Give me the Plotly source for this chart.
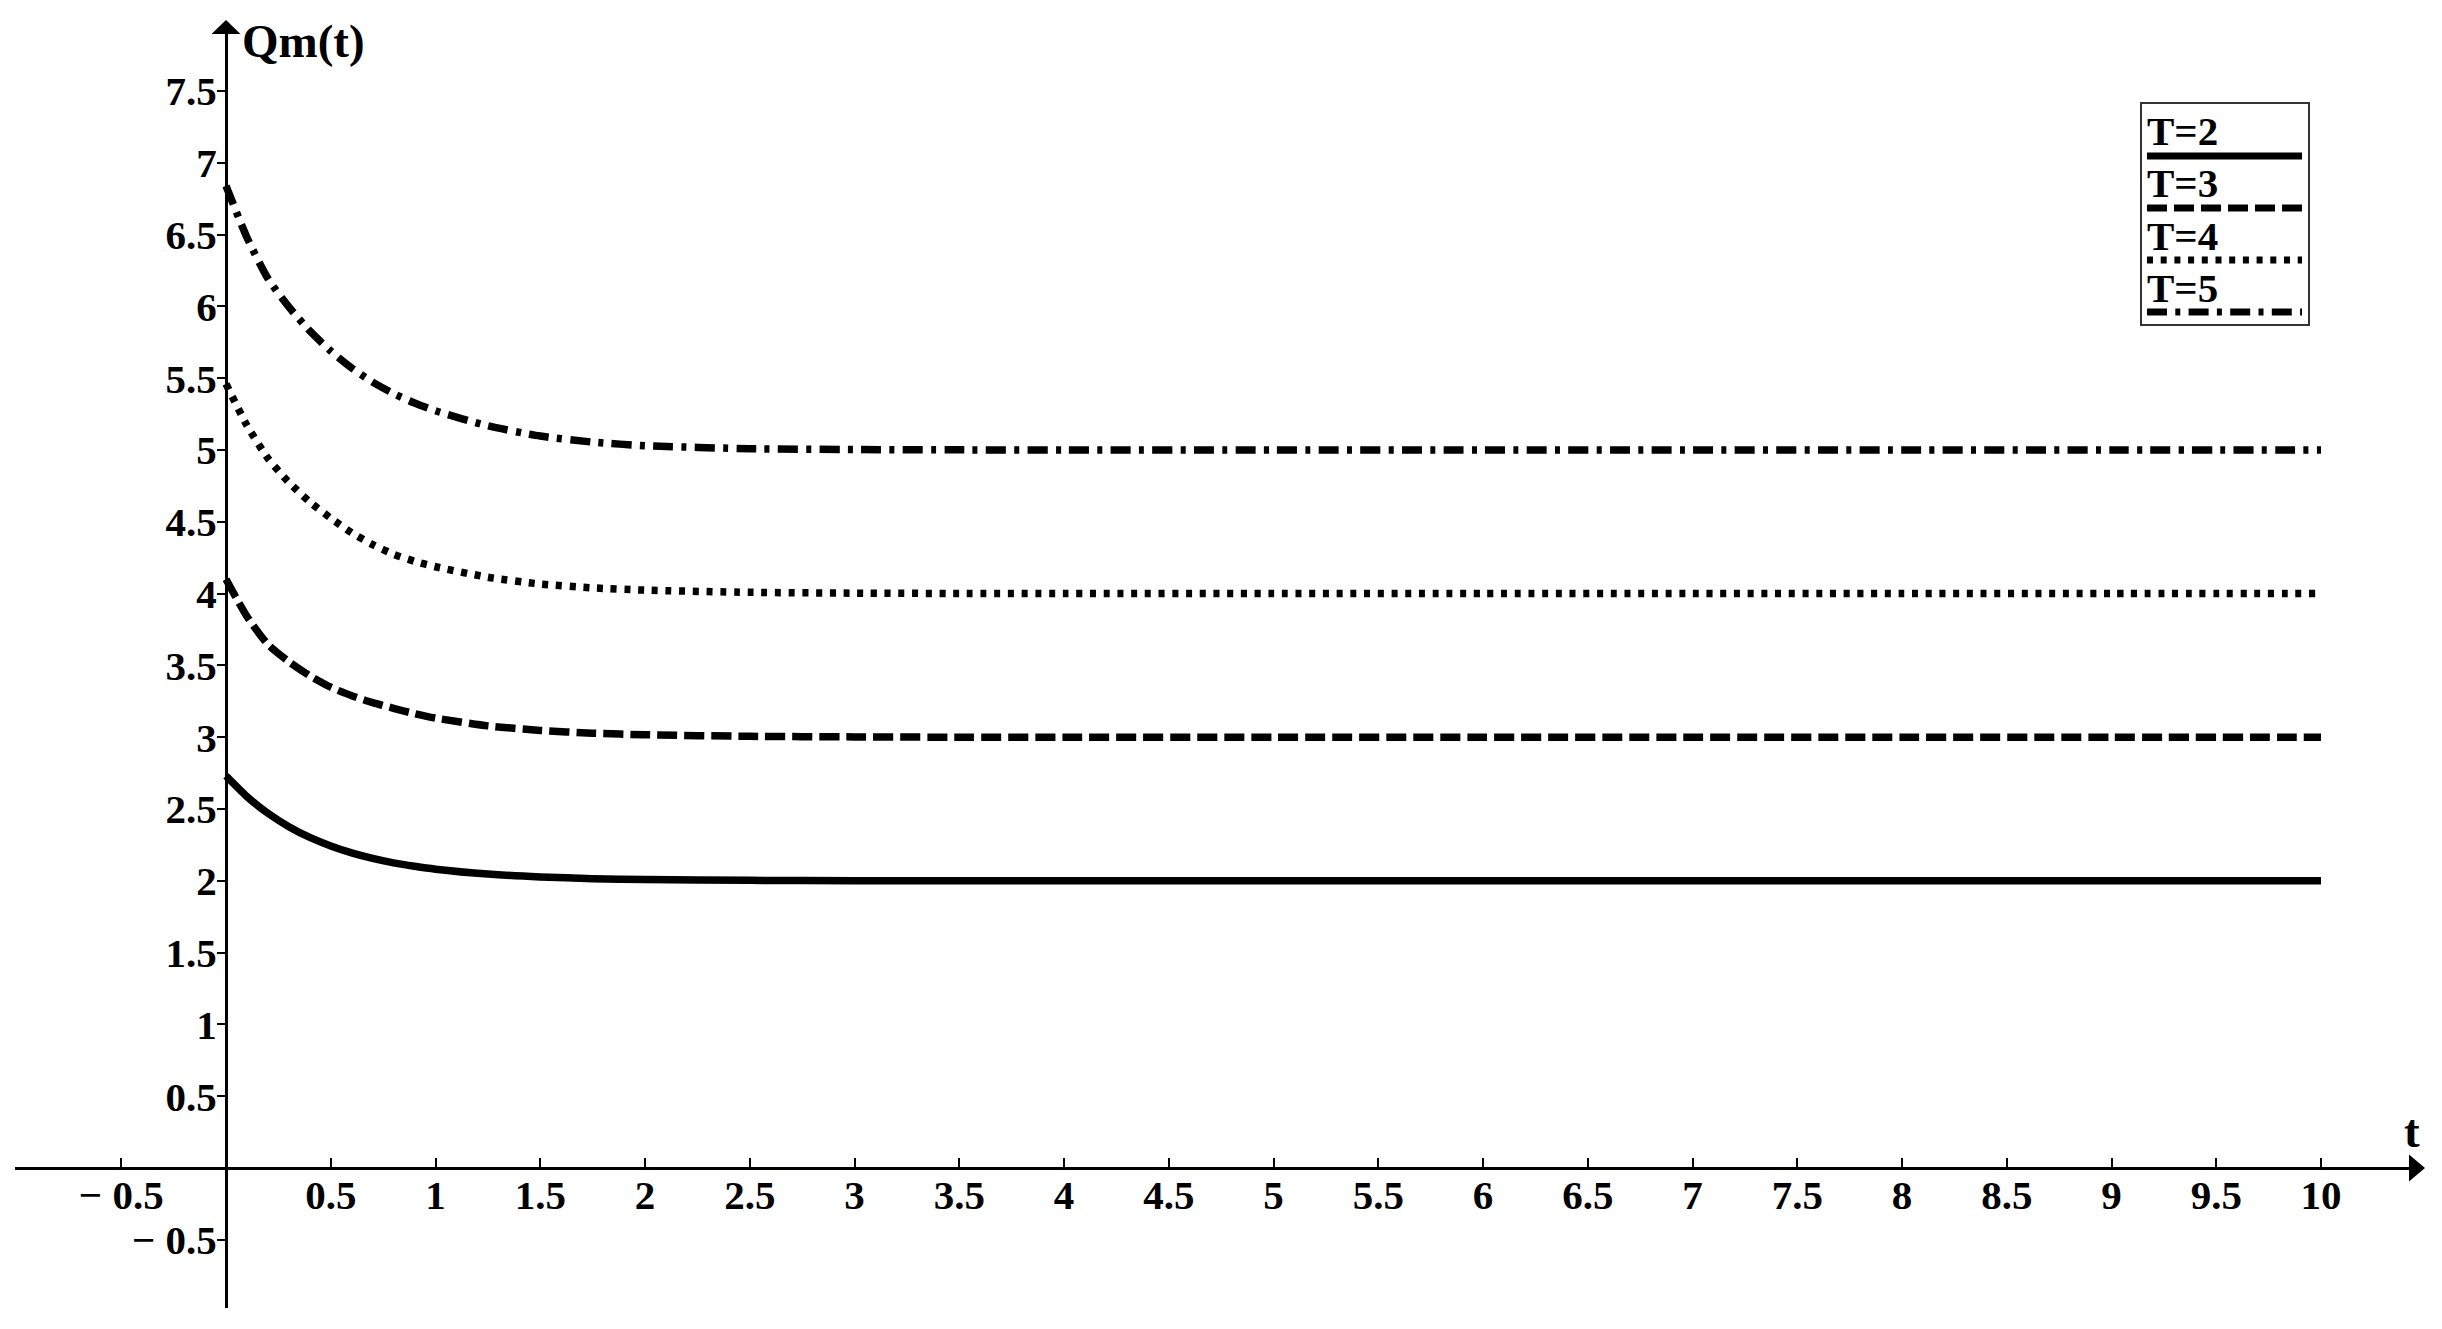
import plotly.graph_objects as go

# ---------------- data ----------------
t = [0, 0.1, 0.2, 0.3, 0.4, 0.5, 0.6, 0.7, 0.8, 0.9, 1.0,
     1.25, 1.5, 1.75, 2, 2.5, 3, 3.5, 4, 5, 6, 7, 8, 9, 10]
Q_T2 = [2.73, 2.586, 2.47, 2.377, 2.302, 2.243, 2.195, 2.156, 2.125, 2.101, 2.081,
        2.047, 2.027, 2.015, 2.009, 2.003, 2.001, 2.0, 2.0, 2.0, 2.0, 2.0, 2.0, 2.0, 2.0]
Q_T3 = [4.10, 3.841, 3.646, 3.526, 3.428, 3.348, 3.289, 3.241, 3.201, 3.164, 3.133,
        3.079, 3.047, 3.028, 3.017, 3.006, 3.002, 3.0, 3.0, 3.0, 3.0, 3.0, 3.0, 3.0, 3.0]
Q_T4 = [5.46, 5.171, 4.942, 4.775, 4.638, 4.525, 4.424, 4.341, 4.274, 4.225, 4.187,
        4.114, 4.067, 4.04, 4.024, 4.009, 4.003, 4.001, 4.0, 4.0, 4.0, 4.0, 4.0, 4.0, 4.0]
Q_T5 = [6.84, 6.48, 6.194, 5.996, 5.829, 5.689, 5.571, 5.473, 5.393, 5.327, 5.273,
        5.168, 5.097, 5.055, 5.03, 5.009, 5.003, 5.001, 5.0, 5.0, 5.0, 5.0, 5.0, 5.0, 5.0]

series_names = ["T=2", "T=3", "T=4", "T=5"]
series_values = [Q_T2, Q_T3, Q_T4, Q_T5]
series_dash = ["solid", "20px,7px", "6px,7.7px", "20px,8.3px,5px,8.3px"]

x_tickvals = [-0.5] + [0.5 * k for k in range(1, 21)]
x_ticktext = ["\u2212 0.5"] + [("%g" % v) for v in x_tickvals[1:]]
y_tickvals = [-0.5] + [0.5 * k for k in range(1, 16)]
y_ticktext = ["\u2212 0.5"] + [("%g" % v) for v in y_tickvals[1:]]

# ---------------- geometry (page body has an 8px margin) ----------------
OFF = 8
W, H = 2442 - OFF, 1329 - OFF
X0, SX = 226.0 - OFF, 209.5      # pixel of t=0, pixels per unit t
Y0, SY = 1168.0 - OFF, 143.6     # pixel of Q=0, pixels per unit Q
XL, XR = 15.0 - OFF, 2410.0 - OFF  # x-axis line extent (px)
YT, YB = 33.0 - OFF, 1308.0 - OFF  # y-axis line extent (px)


def px2x(p):
    return (p - X0) / SX


def px2y(p):
    return (Y0 - p) / SY


def fx(p):  # reference pixel -> paper x
    return (p - OFF) / W


def fy(p):  # reference pixel -> paper y
    return 1 - (p - OFF) / H


FONT = "Liberation Serif"

fig = go.Figure()
for name, vals, dash in zip(series_names, series_values, series_dash):
    fig.add_trace(go.Scatter(
        x=t, y=vals, mode="lines", name=name, showlegend=False, hoverinfo="skip",
        line=dict(color="black", width=7.5, dash=dash, shape="spline", smoothing=0.6),
    ))

tickfont = dict(family=FONT, size=41, color="black", weight="bold")

fig.update_layout(
    width=W, height=H,
    margin=dict(l=0, r=0, t=0, b=0),
    paper_bgcolor="white", plot_bgcolor="white",
    xaxis=dict(
        domain=[XL / W, XR / W], range=[px2x(XL), px2x(XR)],
        anchor="free", position=(H - Y0) / H,
        showline=True, linecolor="black", linewidth=3,
        ticks="inside", ticklen=9, tickwidth=1.5, tickcolor="black",
        tickvals=x_tickvals, ticktext=x_ticktext, tickfont=tickfont,
        ticklabelstandoff=-10,
        showgrid=False, zeroline=False, fixedrange=True,
    ),
    yaxis=dict(
        domain=[(H - YB) / H, (H - YT) / H], range=[px2y(YB), px2y(YT)],
        anchor="free", position=X0 / W,
        showline=True, linecolor="black", linewidth=3,
        ticks="outside", ticklen=8, tickwidth=1.5, tickcolor="black",
        tickvals=y_tickvals, ticktext=y_ticktext, tickfont=tickfont,
        ticklabelstandoff=-8,
        showgrid=False, zeroline=False, fixedrange=True,
    ),
    yaxis2=dict(
        overlaying="y", domain=[(H - YB) / H, (H - YT) / H], range=[px2y(YB), px2y(YT)],
        anchor="free", position=X0 / W,
        showline=False, ticks="inside", ticklen=8, tickwidth=1.5, tickcolor="black",
        tickvals=y_tickvals, showticklabels=False,
        showgrid=False, zeroline=False, fixedrange=True,
    ),
)

shapes = []
# arrowheads
shapes.append(dict(type="path", xref="paper", yref="paper",
                   xsizemode="pixel", ysizemode="pixel",
                   xanchor=XR / W, yanchor=(H - Y0) / H,
                   path="M-1,-13.5 L15,0 L-1,13.5 Z",
                   fillcolor="black", line=dict(width=0)))
shapes.append(dict(type="path", xref="paper", yref="paper",
                   xsizemode="pixel", ysizemode="pixel",
                   xanchor=X0 / W, yanchor=(H - YT) / H,
                   path="M-14.5,-1 L0,13 L14.5,-1 Z",
                   fillcolor="black", line=dict(width=0)))

# legend box
shapes.append(dict(type="rect", xref="paper", yref="paper",
                   x0=fx(2141), x1=fx(2309), y0=fy(325), y1=fy(103),
                   line=dict(color="#333333", width=2), fillcolor="rgba(0,0,0,0)"))
legend_line_y = [156, 208, 260, 312]
legend_text_y = [131, 183, 236, 288]
for name, dash, ly, ty in zip(series_names, series_dash, legend_line_y, legend_text_y):
    shapes.append(dict(type="line", xref="paper", yref="paper",
                       x0=fx(2147), x1=fx(2302), y0=fy(ly), y1=fy(ly),
                       line=dict(color="black", width=7, dash=dash)))
    fig.add_annotation(xref="paper", yref="paper", x=fx(2145), y=fy(ty),
                       xanchor="left", yanchor="middle", showarrow=False,
                       text=name, font=dict(family=FONT, size=41, color="black", weight="bold"))

fig.update_layout(shapes=shapes)

# axis titles
fig.add_annotation(xref="paper", yref="paper", x=fx(240), y=fy(41),
                   xanchor="left", yanchor="middle", showarrow=False,
                   text="Qm(t)", font=dict(family=FONT, size=47, color="black", weight="bold"))
fig.add_annotation(xref="paper", yref="paper", x=fx(2412), y=fy(1131),
                   xanchor="center", yanchor="middle", showarrow=False,
                   text="t", font=dict(family=FONT, size=47, color="black", weight="bold"))

fig.write_html("out.html")
